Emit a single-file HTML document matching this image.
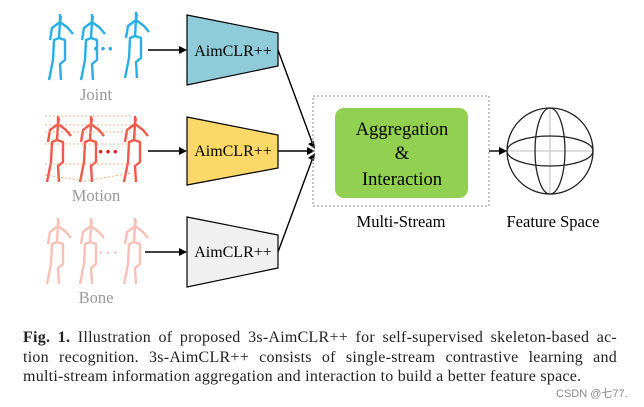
<!DOCTYPE html>
<html><head><style>
body{margin:0;width:644px;height:407px;background:#fff;overflow:hidden;position:relative;font-family:"Liberation Serif",serif}
.cap{position:absolute;left:23px;width:594px;top:328px;font-size:16px;letter-spacing:0.25px;line-height:19.5px;text-align:justify;color:#222}
.l{display:block;text-align-last:justify;white-space:nowrap}
.wm{position:absolute;left:556px;top:385px;font:11px "Liberation Sans","Noto Sans CJK SC",sans-serif;color:#888}
</style></head><body>
<svg width="644" height="320" style="position:absolute;left:0;top:0" font-family="Liberation Serif, serif">
<defs>
<g id="sk" fill="none" stroke-width="2.4" stroke-linejoin="round">
<path d="M12,0L12,8L11,24L6,26L5,46L1,66M11,24L17,26L17,46L12,50L13,66M12,8L4,14L2,26M12,8L20,14L25,20M12,8L13,2"/>
</g></defs>
<g stroke="#29aee8"><use href="#sk" x="48" y="14"/><use href="#sk" x="80" y="14"/><use href="#sk" x="124" y="12"/></g>
<text x="103" y="56" fill="#29aee8" font-size="22" text-anchor="middle" font-weight="bold">···</text>
<g stroke="#f05a4a"><use href="#sk" x="46" y="116"/><use href="#sk" x="79" y="116"/><use href="#sk" x="123" y="116"/></g>
<g stroke="#f5a060" stroke-dasharray="2,2" stroke-width="0.8" fill="none"><path d="M45,116H132M45,125H132M45,132H132M45,144H132M45,164H132M45,175L85,181L132,173"/></g>
<text x="108" y="159" fill="#e52020" font-size="22" text-anchor="middle" font-weight="bold">···</text>
<g stroke="#f9c0b8"><use href="#sk" x="46" y="218"/><use href="#sk" x="79" y="218"/><use href="#sk" x="123" y="218"/></g>
<text x="108" y="260" fill="#f0c8c4" font-size="22" text-anchor="middle">···</text>
<g fill="#999" font-size="16.5" text-anchor="middle"><text x="96" y="100">Joint</text><text x="96" y="201">Motion</text><text x="96" y="303">Bone</text></g>
<g stroke="#000" stroke-width="1.2">
<path d="M187,15L278,33L278,66L187,85z" fill="#8fcbd9"/>
<path d="M187,117L278,135L278,168L187,185z" fill="#fcd868"/>
<path d="M187,217L278,235L278,268L187,287z" fill="#f0f0f0"/>
</g>
<g font-size="16" text-anchor="middle"><text x="233" y="56">AimCLR++</text><text x="233" y="156">AimCLR++</text><text x="233" y="257">AimCLR++</text></g>
<g stroke="#000" stroke-width="1.4">
<line x1="148" y1="50" x2="180" y2="50"/><line x1="148" y1="151" x2="180" y2="151"/><line x1="145" y1="252" x2="180" y2="252"/>
<line x1="278" y1="50" x2="312" y2="142"/><line x1="278" y1="151" x2="308" y2="151"/><line x1="278" y1="252" x2="312" y2="160"/>
<line x1="489" y1="151" x2="500" y2="151"/>
</g>
<g fill="#000">
<path d="M187,50L179,46L179,54z"/><path d="M187,151L179,147L179,155z"/><path d="M187,252L179,248L179,256z"/>
<path d="M315,151L307,147L307,155z"/><path d="M315,149L308,144L314,141z"/><path d="M315,153L314,161L308,158z"/>
<path d="M507,151L499,147L499,155z"/>
</g>
<rect x="313" y="96" width="176" height="110" fill="none" stroke="#888" stroke-dasharray="2,2"/>
<rect x="335" y="108" width="133" height="90" rx="9" fill="#91d050"/>
<g font-size="18.5" text-anchor="middle"><text x="402" y="135">Aggregation</text><text x="402" y="159">&amp;</text><text x="402" y="185">Interaction</text></g>
<g font-size="16.5" text-anchor="middle"><text x="401" y="227">Multi-Stream</text><text x="553" y="227">Feature Space</text></g>
<g fill="none" stroke="#222" stroke-width="1.3">
<line x1="507" y1="151" x2="593" y2="151" stroke="#ccc"/><line x1="550" y1="108" x2="550" y2="194" stroke="#ccc"/>
<circle cx="550" cy="151" r="43"/><ellipse cx="550" cy="151" rx="15" ry="43"/><ellipse cx="550" cy="151" rx="43" ry="15"/>
</g>
</svg>
<div class="cap"><span class="l"><b>Fig. 1.</b> Illustration of proposed 3s-AimCLR++ for self-supervised skeleton-based ac-</span><span class="l">tion recognition. 3s-AimCLR++ consists of single-stream contrastive learning and</span><span style="white-space:nowrap">multi-stream information aggregation and interaction to build a better feature space.</span></div>
<div class="wm">CSDN @七77.</div>
</body></html>
